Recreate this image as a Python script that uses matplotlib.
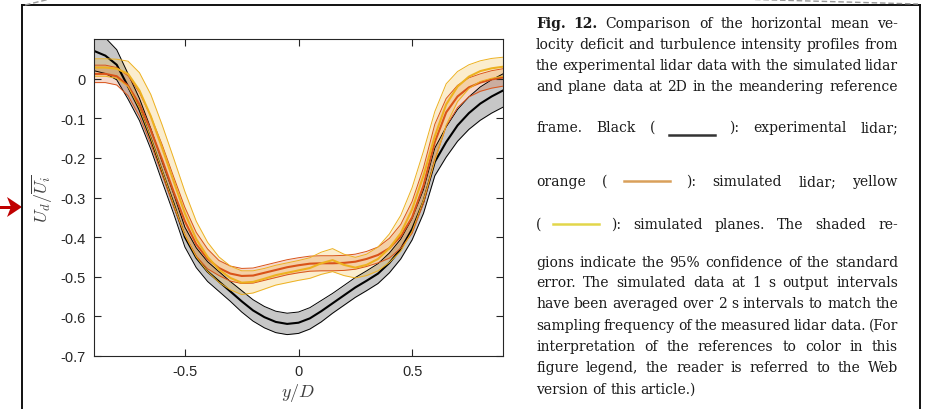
import matplotlib
matplotlib.use('Agg')
import matplotlib.pyplot as plt
from matplotlib.patches import Polygon, Rectangle

plt.rcParams['mathtext.fontset'] = 'cm'
plt.rcParams['axes.unicode_minus'] = False

# Querposition y/D
y_pos = [-0.90, -0.85, -0.80, -0.75, -0.70, -0.65, -0.60, -0.55, -0.50, -0.45,
         -0.40, -0.35, -0.30, -0.25, -0.20, -0.15, -0.10, -0.05, 0.00, 0.05,
         0.10, 0.15, 0.20, 0.25, 0.30, 0.35, 0.40, 0.45, 0.50, 0.55,
         0.60, 0.65, 0.70, 0.75, 0.80, 0.85, 0.90]

# experimentelles Lidar (schwarz)
exp_lidar = [0.070, 0.058, 0.035, -0.020, -0.078, -0.152, -0.235, -0.315, -0.400, -0.452,
             -0.487, -0.512, -0.537, -0.562, -0.585, -0.602, -0.614, -0.619, -0.616, -0.605,
             -0.587, -0.567, -0.547, -0.527, -0.510, -0.492, -0.465, -0.430, -0.380, -0.310,
             -0.210, -0.160, -0.118, -0.087, -0.063, -0.045, -0.030]
exp_lidar_ci = [0.050, 0.045, 0.038, 0.032, 0.028, 0.026, 0.025, 0.025, 0.025, 0.025,
                0.025, 0.025, 0.025, 0.027, 0.027, 0.027, 0.027, 0.027, 0.027, 0.027,
                0.027, 0.025, 0.025, 0.025, 0.025, 0.025, 0.025, 0.025, 0.027, 0.030,
                0.035, 0.038, 0.040, 0.041, 0.042, 0.042, 0.042]

# simuliertes Lidar (orange)
sim_lidar = [0.012, 0.012, 0.006, -0.018, -0.065, -0.130, -0.205, -0.285, -0.360, -0.418,
             -0.455, -0.478, -0.492, -0.498, -0.497, -0.490, -0.483, -0.476, -0.471, -0.467,
             -0.466, -0.466, -0.465, -0.462, -0.455, -0.445, -0.428, -0.398, -0.350, -0.270,
             -0.160, -0.085, -0.045, -0.022, -0.010, -0.002, 0.003]
sim_lidar_ci = [0.022, 0.022, 0.022, 0.025, 0.030, 0.035, 0.038, 0.038, 0.035, 0.030,
                0.025, 0.019, 0.019, 0.019, 0.019, 0.019, 0.019, 0.019, 0.019, 0.019,
                0.019, 0.019, 0.019, 0.019, 0.019, 0.020, 0.025, 0.030, 0.040, 0.045,
                0.045, 0.035, 0.028, 0.024, 0.022, 0.022, 0.022]

# simulierte Ebenen (gelb)
sim_plane = [0.028, 0.028, 0.025, 0.012, -0.030, -0.095, -0.175, -0.258, -0.340, -0.405,
             -0.450, -0.482, -0.503, -0.515, -0.513, -0.505, -0.496, -0.490, -0.484, -0.478,
             -0.466, -0.458, -0.470, -0.477, -0.470, -0.455, -0.428, -0.390, -0.330, -0.245,
             -0.145, -0.065, -0.020, 0.005, 0.019, 0.026, 0.030]
sim_plane_ci = [0.022, 0.022, 0.024, 0.032, 0.045, 0.055, 0.058, 0.058, 0.055, 0.045,
                0.037, 0.032, 0.030, 0.030, 0.028, 0.026, 0.025, 0.025, 0.025, 0.026,
                0.028, 0.029, 0.027, 0.026, 0.027, 0.030, 0.036, 0.045, 0.055, 0.062,
                0.062, 0.052, 0.038, 0.030, 0.026, 0.025, 0.024]

x_ticks = [-0.5, 0, 0.5]
x_ticklabels = ['-0.5', '0', '0.5']
y_ticks = [0, -0.1, -0.2, -0.3, -0.4, -0.5, -0.6, -0.7]
y_ticklabels = ['0', '-0.1', '-0.2', '-0.3', '-0.4', '-0.5', '-0.6', '-0.7']

W, H = 932, 410
fig = plt.figure(figsize=(W / 100, H / 100), dpi=100)

# Overlay in Pixelkoordinaten (Rahmen, Pfeil, Bildunterschrift)
over = fig.add_axes([0, 0, 1, 1])
over.set_xlim(0, W)
over.set_ylim(H, 0)
over.axis('off')

# Rahmen des Screenshots
over.plot([22, 22], [6, H], color='#111111', lw=1.4)
over.plot([22, 920], [6, 6], color='#111111', lw=1.4)
over.plot([920, 920], [6, H], color='#111111', lw=1.4)
over.plot([25, 50], [6, 0], color='#999999', lw=1, ls=(0, (4, 2)))
over.plot([755, 918], [0.5, 5], color='#999999', lw=1, ls=(0, (4, 2)))

# roter Pfeil
over.add_patch(Rectangle((0, 206.5), 12, 3.5, color='#c00000', lw=0))
over.add_patch(Polygon([(22, 208), (7, 198), (11, 208), (7, 218)], closed=True,
                       color='#c00000', lw=0))

# Diagramm
ax = fig.add_axes([94 / W, 1 - 357 / H, 409 / W, 317 / H])
ax.set_zorder(3)


def band(x, mean, ci, edge, fill):
    lo = [m - c for m, c in zip(mean, ci)]
    hi = [m + c for m, c in zip(mean, ci)]
    ax.fill_between(x, lo, hi, color=fill, alpha=0.22, lw=0)
    ax.plot(x, lo, color=edge, lw=0.7)
    ax.plot(x, hi, color=edge, lw=0.7)
    ax.plot(x, mean, color=edge, lw=1.5)


band(y_pos, exp_lidar, exp_lidar_ci, 'black', 'black')
band(y_pos, sim_lidar, sim_lidar_ci, '#D95319', '#D95319')
band(y_pos, sim_plane, sim_plane_ci, '#EDB120', '#EDB120')

ax.set_xlim(-0.9, 0.9)
ax.set_ylim(-0.7, 0.1)
ax.set_xticks(x_ticks)
ax.set_xticklabels(x_ticklabels)
ax.set_yticks(y_ticks)
ax.set_yticklabels(y_ticklabels)
ax.tick_params(direction='in', top=True, right=True, length=5, width=0.8,
               colors='#262626', labelsize=10.5, pad=6)
for lab in ax.get_xticklabels() + ax.get_yticklabels():
    lab.set_fontfamily('Liberation Sans')
for s in ax.spines.values():
    s.set_color('#262626')
    s.set_linewidth(0.8)
ax.set_xlabel('$y/D$', fontsize=13, color='#404040', labelpad=2)
ax.set_ylabel(r'$U_d/\overline{U_i}$', fontsize=13, color='#404040', labelpad=4)

# Bildunterschrift, Blocksatz
L, R = 536, 898
cap_kw = dict(fontfamily='DejaVu Serif', fontsize=10.0, color='#1a1a1a')
renderer = fig.canvas.get_renderer()


def text_width(s, weight):
    t = over.text(0, 0, s, fontweight=weight, **cap_kw)
    w = t.get_window_extent(renderer).width
    t.remove()
    return w


def put_line(tokens, base, justify=True):
    widths = []
    for kind, val in tokens:
        if kind == 'l':
            widths.append(46)
        else:
            widths.append(text_width(val, 'bold' if kind == 'b' else 'normal'))
    if justify:
        gap = (R - L - sum(widths)) / (len(tokens) - 1)
    else:
        gap = text_width('a a', 'normal') - text_width('aa', 'normal')
    x = L
    for (kind, val), w in zip(tokens, widths):
        if kind == 'l':
            color, dy = val
            over.plot([x, x + w], [base + dy, base + dy], color=color, lw=1.8)
        else:
            over.text(x, base, val, va='baseline', ha='left',
                      fontweight='bold' if kind == 'b' else 'normal', **cap_kw)
        x += w + gap


def words(s):
    return [('t', w) for w in s.split()]


put_line([('b', 'Fig.'), ('b', '12.')] + words('Comparison of the horizontal mean ve-'), 28)
put_line(words('locity deficit and turbulence intensity profiles from'), 49)
put_line(words('the experimental lidar data with the simulated lidar'), 70)
put_line(words('and plane data at 2D in the meandering reference'), 91)
put_line(words('frame. Black (') + [('l', ('#333333', 4))] + words('): experimental lidar;'), 132)
put_line(words('orange (') + [('l', ('#d9a05b', -4))] + words('): simulated lidar; yellow'), 186)
put_line(words('(') + [('l', ('#e2d64a', -4))] + words('): simulated planes. The shaded re-'), 229)
put_line(words('gions indicate the 95% confidence of the standard'), 267)
put_line(words('error. The simulated data at 1 s output intervals'), 287)
put_line(words('have been averaged over 2 s intervals to match the'), 308)
put_line(words('sampling frequency of the measured lidar data. (For'), 330)
put_line(words('interpretation of the references to color in this'), 351)
put_line(words('figure legend, the reader is referred to the Web'), 372)
put_line(words('version of this article.)'), 394, justify=False)

fig.savefig('out.png', dpi=100)
